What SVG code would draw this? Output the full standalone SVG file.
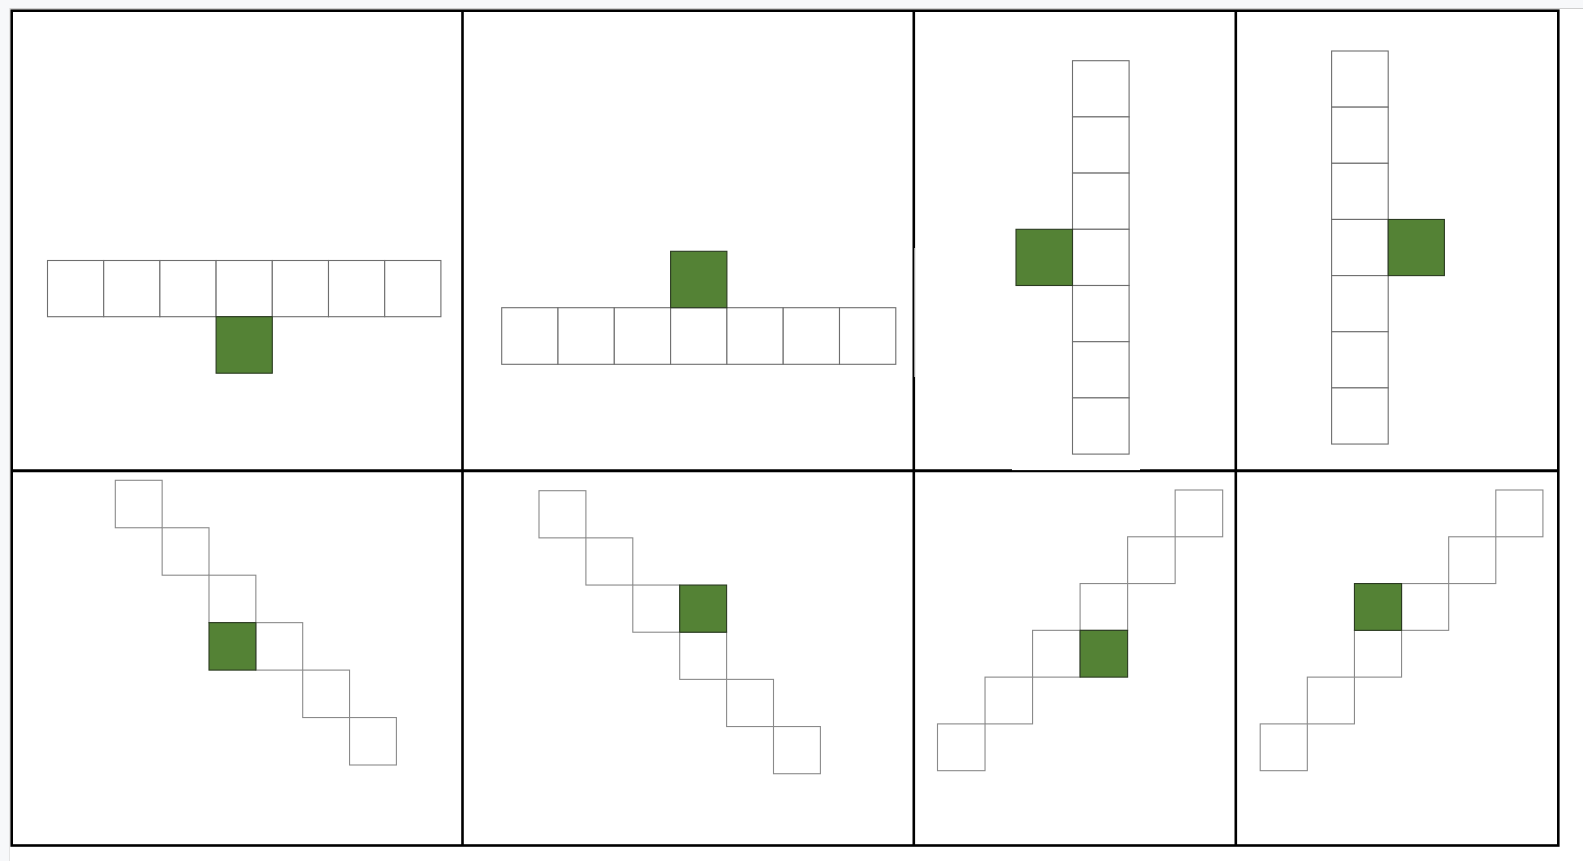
<svg xmlns="http://www.w3.org/2000/svg" width="1583" height="861" viewBox="0 0 1583 861">
<style>
.c{fill:#ffffff;stroke:#6e6e6e;stroke-width:1.1}
.d{fill:#ffffff;stroke:#8a8a8a;stroke-width:1.1}
.g{fill:#548235;stroke:#2a3a20;stroke-width:1.1}
.f{fill:none;stroke:#000;stroke-width:2.6}
</style>
<rect x="0" y="0" width="1583" height="861" fill="#ffffff"/>
<rect x="0" y="0" width="1583" height="8" fill="#f7f8fa"/>
<rect x="0" y="0" width="9" height="861" fill="#f7f8fa"/>
<line x1="9" y1="8.5" x2="1583" y2="8.5" stroke="#cfcfcf" stroke-width="1"/>
<line x1="9.5" y1="8" x2="9.5" y2="861" stroke="#e4e4e4" stroke-width="1"/>

<g id="panel-1">
<rect class="c" x="47.5" y="260.5" width="56.2" height="56.2"/>
<rect class="c" x="103.7" y="260.5" width="56.2" height="56.2"/>
<rect class="c" x="159.9" y="260.5" width="56.2" height="56.2"/>
<rect class="c" x="216.1" y="260.5" width="56.2" height="56.2"/>
<rect class="c" x="272.3" y="260.5" width="56.2" height="56.2"/>
<rect class="c" x="328.5" y="260.5" width="56.2" height="56.2"/>
<rect class="c" x="384.7" y="260.5" width="56.2" height="56.2"/>
<rect class="g" x="216.1" y="316.7" width="56.2" height="56.5"/>
</g>

<g id="panel-2">
<rect class="c" x="501.7" y="307.7" width="56.3" height="56.6"/>
<rect class="c" x="558" y="307.7" width="56.3" height="56.6"/>
<rect class="c" x="614.3" y="307.7" width="56.3" height="56.6"/>
<rect class="c" x="670.6" y="307.7" width="56.3" height="56.6"/>
<rect class="c" x="726.9" y="307.7" width="56.3" height="56.6"/>
<rect class="c" x="783.2" y="307.7" width="56.3" height="56.6"/>
<rect class="c" x="839.5" y="307.7" width="56.3" height="56.6"/>
<rect class="g" x="670.6" y="251.3" width="56.3" height="56.4"/>
</g>

<g id="panel-3">
<rect class="c" x="1072.5" y="60.7" width="56.6" height="56.2"/>
<rect class="c" x="1072.5" y="116.9" width="56.6" height="56.2"/>
<rect class="c" x="1072.5" y="173.1" width="56.6" height="56.2"/>
<rect class="c" x="1072.5" y="229.3" width="56.6" height="56.2"/>
<rect class="c" x="1072.5" y="285.5" width="56.6" height="56.2"/>
<rect class="c" x="1072.5" y="341.7" width="56.6" height="56.2"/>
<rect class="c" x="1072.5" y="397.9" width="56.6" height="56.2"/>
<rect class="g" x="1016" y="229.3" width="56.5" height="56.2"/>
</g>

<g id="panel-4">
<rect class="c" x="1331.6" y="51" width="56.6" height="56.15"/>
<rect class="c" x="1331.6" y="107.15" width="56.6" height="56.15"/>
<rect class="c" x="1331.6" y="163.3" width="56.6" height="56.15"/>
<rect class="c" x="1331.6" y="219.45" width="56.6" height="56.15"/>
<rect class="c" x="1331.6" y="275.6" width="56.6" height="56.15"/>
<rect class="c" x="1331.6" y="331.75" width="56.6" height="56.15"/>
<rect class="c" x="1331.6" y="387.9" width="56.6" height="56.15"/>
<rect class="g" x="1388.2" y="219.45" width="56.2" height="56.15"/>
</g>

<g id="panel-5">
<rect class="d" x="115.3" y="480.3" width="46.85" height="47.45"/>
<rect class="d" x="162.15" y="527.75" width="46.85" height="47.45"/>
<rect class="d" x="209" y="575.2" width="46.85" height="47.45"/>
<rect class="d" x="255.85" y="622.65" width="46.85" height="47.45"/>
<rect class="d" x="302.7" y="670.1" width="46.85" height="47.45"/>
<rect class="d" x="349.55" y="717.55" width="46.85" height="47.45"/>
<rect class="g" x="209" y="622.65" width="46.85" height="47.45"/>
</g>

<g id="panel-6">
<rect class="d" x="539" y="490.7" width="46.9" height="47.17"/>
<rect class="d" x="585.9" y="537.87" width="46.9" height="47.17"/>
<rect class="d" x="632.8" y="585.04" width="46.9" height="47.17"/>
<rect class="d" x="679.7" y="632.21" width="46.9" height="47.17"/>
<rect class="d" x="726.6" y="679.38" width="46.9" height="47.17"/>
<rect class="d" x="773.5" y="726.55" width="46.9" height="47.17"/>
<rect class="g" x="679.7" y="585.04" width="46.9" height="47.17"/>
</g>

<g id="panel-7">
<rect class="d" x="1175.15" y="490" width="47.53" height="46.78"/>
<rect class="d" x="1127.62" y="536.78" width="47.53" height="46.78"/>
<rect class="d" x="1080.09" y="583.56" width="47.53" height="46.78"/>
<rect class="d" x="1032.56" y="630.34" width="47.53" height="46.78"/>
<rect class="d" x="985.03" y="677.12" width="47.53" height="46.78"/>
<rect class="d" x="937.5" y="723.9" width="47.53" height="46.78"/>
<rect class="g" x="1080.09" y="630.34" width="47.53" height="46.78"/>
</g>

<g id="panel-8">
<rect class="d" x="1495.8" y="490" width="47.12" height="46.78"/>
<rect class="d" x="1448.68" y="536.78" width="47.12" height="46.78"/>
<rect class="d" x="1401.56" y="583.56" width="47.12" height="46.78"/>
<rect class="d" x="1354.44" y="630.34" width="47.12" height="46.78"/>
<rect class="d" x="1307.32" y="677.12" width="47.12" height="46.78"/>
<rect class="d" x="1260.2" y="723.9" width="47.12" height="46.78"/>
<rect class="g" x="1354.44" y="583.56" width="47.12" height="46.78"/>
</g>

<g id="frame">
<rect class="f" x="11.7" y="10.7" width="1546.6" height="834.8"/>
<line class="f" x1="462.5" y1="10.7" x2="462.5" y2="845.5"/>
<line class="f" x1="913.8" y1="10.7" x2="913.8" y2="845.5"/>
<line class="f" x1="1235.8" y1="10.7" x2="1235.8" y2="845.5"/>
<line x1="11.7" y1="470.7" x2="1558.3" y2="470.7" stroke="#000" stroke-width="3"/>
<rect x="1012" y="468.8" width="128" height="1.3" fill="#ffffff"/>
<rect x="914.4" y="248" width="0.8" height="129" fill="#ffffff"/>
</g>

<g id="connectors"></g>
</svg>
